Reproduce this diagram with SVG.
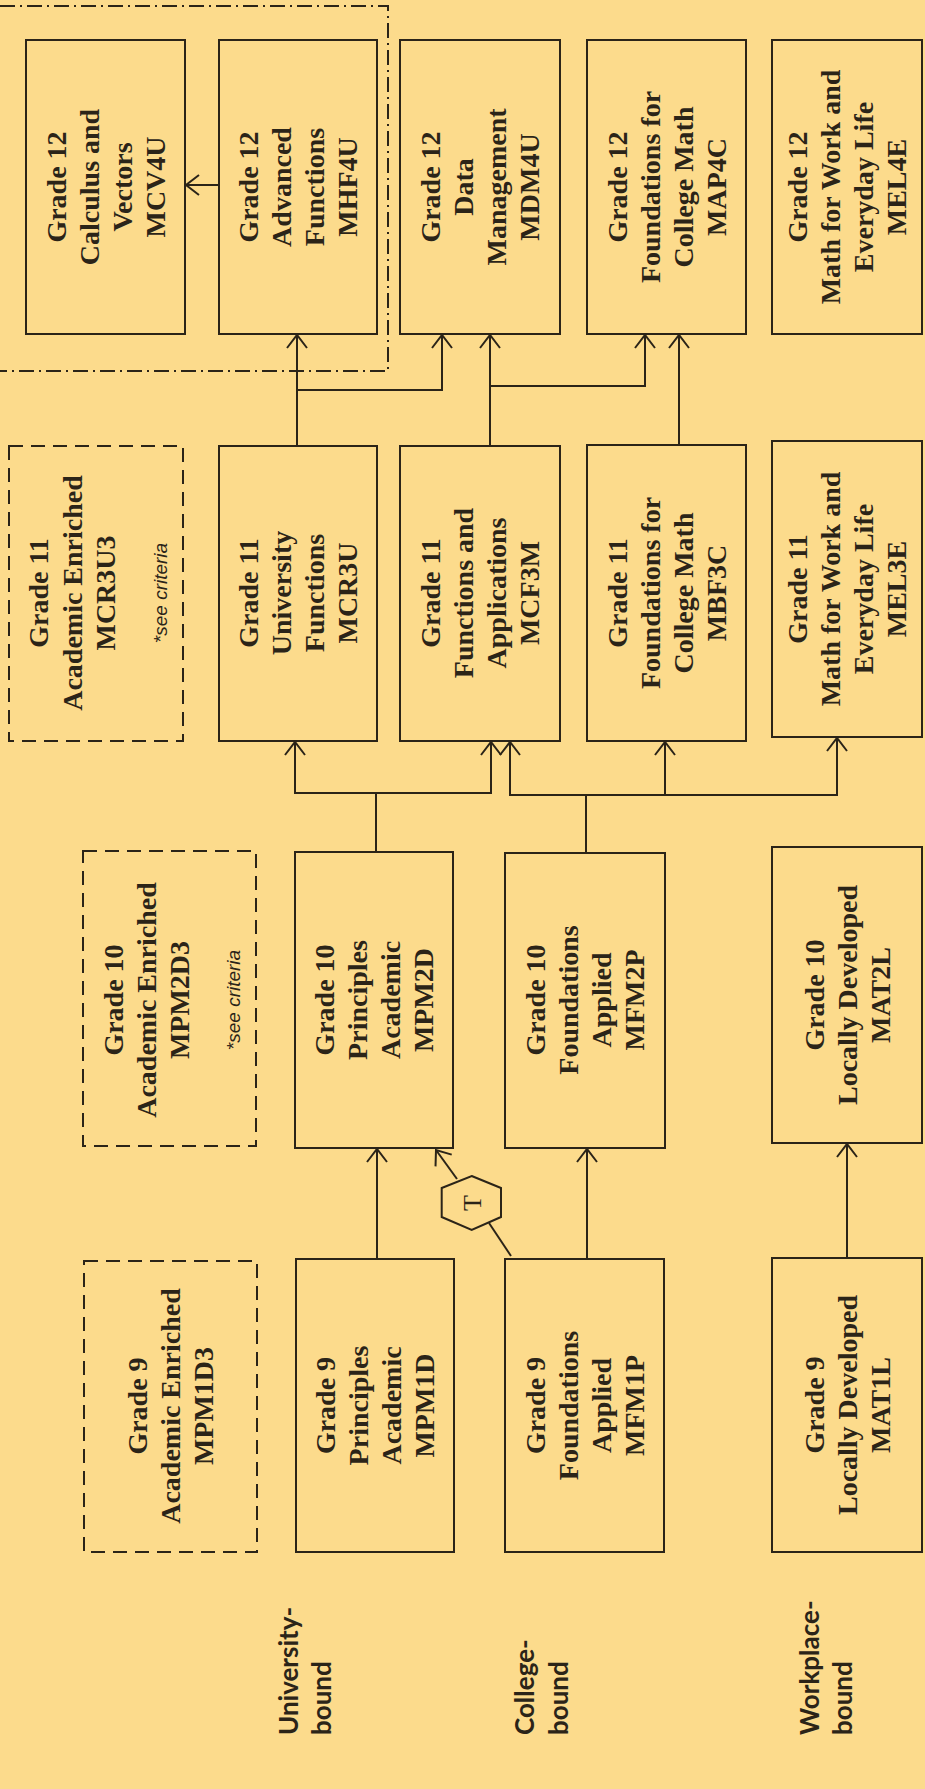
<svg xmlns="http://www.w3.org/2000/svg" width="925" height="1789" viewBox="0 0 925 1789">
<defs>
<style>
.bx{fill:none;stroke:#2b2418;stroke-width:2}
.dsh{stroke-dasharray:14 8}
.dd{fill:none;stroke:#2b2418;stroke-width:2;stroke-dasharray:15 5 2 5}
.cn{fill:none;stroke:#2b2418;stroke-width:2}
.t{font-family:"Liberation Serif","Times New Roman",serif;font-weight:bold;font-size:28px;fill:#2b2418;text-anchor:middle}
.cr{font-family:"Liberation Sans",Arial,sans-serif;font-style:italic;font-weight:normal;font-size:19px}
.lb{font-family:Lato,"Open Sans","Liberation Sans",sans-serif;font-weight:bold;font-size:26px;fill:#2b2418;text-anchor:start}
.hx{font-family:"Liberation Serif","Times New Roman",serif;font-size:26px;fill:#2b2418;text-anchor:middle}
</style>
<marker id="ar" viewBox="-15 -12 17 24" refX="0" refY="0" markerWidth="17" markerHeight="24" orient="auto" markerUnits="userSpaceOnUse">
<path d="M-13,-10 L0,0 L-13,10" fill="none" stroke="#2b2418" stroke-width="2"/>
</marker>
</defs>
<rect x="0" y="0" width="925" height="1789" fill="#FCDB8C"/>

<path class="dd" d="M0,6 H388 V371 H0"/>

<g id="MCV4U"><rect class="bx" x="26" y="40" width="159" height="294"/>
<text class="t" transform="translate(105.5,187) rotate(-90)"><tspan x="0" y="-40">Grade 12</tspan><tspan x="0" y="-7">Calculus and</tspan><tspan x="0" y="26">Vectors</tspan><tspan x="0" y="59">MCV4U</tspan></text></g>
<g id="MHF4U"><rect class="bx" x="219" y="40" width="158" height="294"/>
<text class="t" transform="translate(298,187) rotate(-90)"><tspan x="0" y="-40">Grade 12</tspan><tspan x="0" y="-7">Advanced</tspan><tspan x="0" y="26">Functions</tspan><tspan x="0" y="59">MHF4U</tspan></text></g>
<g id="MDM4U"><rect class="bx" x="400" y="40" width="160" height="294"/>
<text class="t" transform="translate(480,187) rotate(-90)"><tspan x="0" y="-40">Grade 12</tspan><tspan x="0" y="-7">Data</tspan><tspan x="0" y="26">Management</tspan><tspan x="0" y="59">MDM4U</tspan></text></g>
<g id="MAP4C"><rect class="bx" x="587" y="40" width="159" height="294"/>
<text class="t" transform="translate(666.5,187) rotate(-90)"><tspan x="0" y="-40">Grade 12</tspan><tspan x="0" y="-7">Foundations for</tspan><tspan x="0" y="26">College Math</tspan><tspan x="0" y="59">MAP4C</tspan></text></g>
<g id="MEL4E"><rect class="bx" x="772" y="40" width="150" height="294"/>
<text class="t" transform="translate(847,187) rotate(-90)"><tspan x="0" y="-40">Grade 12</tspan><tspan x="0" y="-7">Math for Work and</tspan><tspan x="0" y="26">Everyday Life</tspan><tspan x="0" y="59">MEL4E</tspan></text></g>

<g id="MCR3U3"><rect class="bx dsh" x="9" y="446" width="174" height="295"/>
<text class="t" transform="translate(96,593) rotate(-90)"><tspan x="0" y="-48">Grade 11</tspan><tspan x="0" y="-14">Academic Enriched</tspan><tspan x="0" y="19">MCR3U3</tspan><tspan class="cr" x="0" y="71">*see criteria</tspan></text></g>
<g id="MCR3U"><rect class="bx" x="219" y="446" width="158" height="295"/>
<text class="t" transform="translate(298,593) rotate(-90)"><tspan x="0" y="-40">Grade 11</tspan><tspan x="0" y="-7">University</tspan><tspan x="0" y="26">Functions</tspan><tspan x="0" y="59">MCR3U</tspan></text></g>
<g id="MCF3M"><rect class="bx" x="400" y="446" width="160" height="295"/>
<text class="t" transform="translate(480,593) rotate(-90)"><tspan x="0" y="-40">Grade 11</tspan><tspan x="0" y="-7">Functions and</tspan><tspan x="0" y="26">Applications</tspan><tspan x="0" y="59">MCF3M</tspan></text></g>
<g id="MBF3C"><rect class="bx" x="587" y="445" width="159" height="296"/>
<text class="t" transform="translate(666.5,593) rotate(-90)"><tspan x="0" y="-40">Grade 11</tspan><tspan x="0" y="-7">Foundations for</tspan><tspan x="0" y="26">College Math</tspan><tspan x="0" y="59">MBF3C</tspan></text></g>
<g id="MEL3E"><rect class="bx" x="772" y="441" width="150" height="296"/>
<text class="t" transform="translate(847,589) rotate(-90)"><tspan x="0" y="-40">Grade 11</tspan><tspan x="0" y="-7">Math for Work and</tspan><tspan x="0" y="26">Everyday Life</tspan><tspan x="0" y="59">MEL3E</tspan></text></g>

<g id="MPM2D3"><rect class="bx dsh" x="83" y="851" width="173" height="295"/>
<text class="t" transform="translate(169.5,1000) rotate(-90)"><tspan x="0" y="-47">Grade 10</tspan><tspan x="0" y="-14">Academic Enriched</tspan><tspan x="0" y="19">MPM2D3</tspan><tspan class="cr" x="0" y="70">*see criteria</tspan></text></g>
<g id="MPM2D"><rect class="bx" x="295" y="852" width="158" height="296"/>
<text class="t" transform="translate(374,1000) rotate(-90)"><tspan x="0" y="-40">Grade 10</tspan><tspan x="0" y="-7">Principles</tspan><tspan x="0" y="26">Academic</tspan><tspan x="0" y="59">MPM2D</tspan></text></g>
<g id="MFM2P"><rect class="bx" x="505" y="853" width="160" height="295"/>
<text class="t" transform="translate(585,1000) rotate(-90)"><tspan x="0" y="-40">Grade 10</tspan><tspan x="0" y="-7">Foundations</tspan><tspan x="0" y="26">Applied</tspan><tspan x="0" y="59">MFM2P</tspan></text></g>
<g id="MAT2L"><rect class="bx" x="772" y="847" width="150" height="296"/>
<text class="t" transform="translate(847,995) rotate(-90)"><tspan x="0" y="-23.5">Grade 10</tspan><tspan x="0" y="9.5">Locally Developed</tspan><tspan x="0" y="42.5">MAT2L</tspan></text></g>

<g id="MPM1D3"><rect class="bx dsh" x="84" y="1261" width="173" height="291"/>
<text class="t" transform="translate(170.5,1406) rotate(-90)"><tspan x="0" y="-23.5">Grade 9</tspan><tspan x="0" y="9.5">Academic Enriched</tspan><tspan x="0" y="42.5">MPM1D3</tspan></text></g>
<g id="MPM1D"><rect class="bx" x="296" y="1259" width="158" height="293"/>
<text class="t" transform="translate(375,1405.5) rotate(-90)"><tspan x="0" y="-40">Grade 9</tspan><tspan x="0" y="-7">Principles</tspan><tspan x="0" y="26">Academic</tspan><tspan x="0" y="59">MPM1D</tspan></text></g>
<g id="MFM1P"><rect class="bx" x="505" y="1259" width="159" height="293"/>
<text class="t" transform="translate(584.5,1405.5) rotate(-90)"><tspan x="0" y="-40">Grade 9</tspan><tspan x="0" y="-7">Foundations</tspan><tspan x="0" y="26">Applied</tspan><tspan x="0" y="59">MFM1P</tspan></text></g>
<g id="MAT1L"><rect class="bx" x="772" y="1258" width="150" height="294"/>
<text class="t" transform="translate(847,1405) rotate(-90)"><tspan x="0" y="-23.5">Grade 9</tspan><tspan x="0" y="9.5">Locally Developed</tspan><tspan x="0" y="42.5">MAT1L</tspan></text></g>

<g id="T"><polygon class="bx" points="471.7,1176 501,1188 501,1217 471.7,1230 441.7,1217 441.7,1188"/>
<text class="hx" transform="translate(472,1203) rotate(-90)" y="9">T</text></g>

<g id="labels">
<text class="lb" transform="translate(0,1735) rotate(-90)"><tspan x="0" y="298">University-</tspan><tspan x="0" y="331">bound</tspan></text>
<text class="lb" transform="translate(0,1735) rotate(-90)"><tspan x="0" y="534">College-</tspan><tspan x="0" y="568">bound</tspan></text>
<text class="lb" transform="translate(0,1735) rotate(-90)"><tspan x="0" y="819">Workplace-</tspan><tspan x="0" y="852">bound</tspan></text>
</g>

<g id="connectors">
<path class="cn" d="M219,185 H186" marker-end="url(#ar)"/>
<path class="cn" d="M297,446 V335" marker-end="url(#ar)"/>
<path class="cn" d="M297,390 H442 V335" marker-end="url(#ar)"/>
<path class="cn" d="M490,446 V335" marker-end="url(#ar)"/>
<path class="cn" d="M490,386 H645 V335" marker-end="url(#ar)"/>
<path class="cn" d="M679,445 V335" marker-end="url(#ar)"/>
<path class="cn" d="M376,852 V793 H295 V742" marker-end="url(#ar)"/>
<path class="cn" d="M376,793 H491 V742" marker-end="url(#ar)"/>
<path class="cn" d="M586,853 V795 H510 V742" marker-end="url(#ar)"/>
<path class="cn" d="M586,795 H665 V742" marker-end="url(#ar)"/>
<path class="cn" d="M665,795 H837 V738" marker-end="url(#ar)"/>
<path class="cn" d="M377,1259 V1149" marker-end="url(#ar)"/>
<path class="cn" d="M587,1259 V1149" marker-end="url(#ar)"/>
<path class="cn" d="M847,1258 V1144" marker-end="url(#ar)"/>
<path class="cn" d="M511,1256 L489,1223"/>
<path class="cn" d="M457,1179 L436,1150" marker-end="url(#ar)"/>
</g>
</svg>
